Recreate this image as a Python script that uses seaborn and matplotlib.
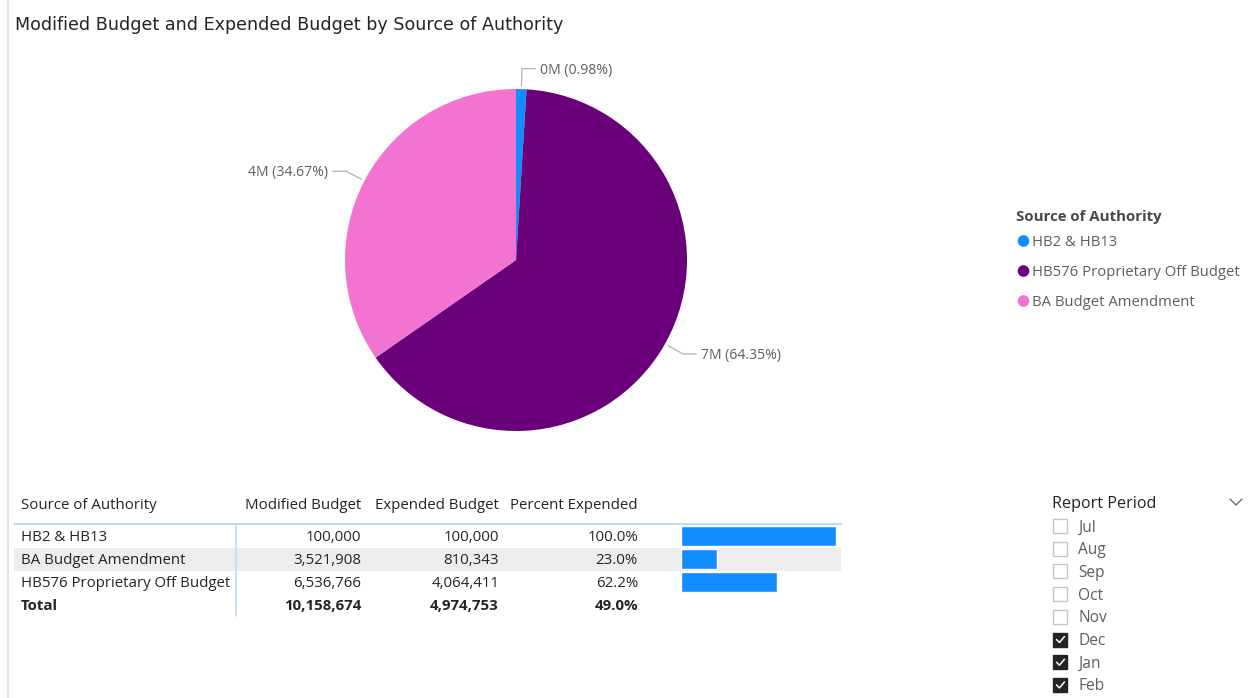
import numpy as np
import pandas as pd
import matplotlib
matplotlib.use("Agg")
import matplotlib.pyplot as plt
import seaborn as sns

# --- data -------------------------------------------------------------
sources = ["HB2 & HB13", "BA Budget Amendment", "HB576 Proprietary Off Budget"]
modified_budget = [100000, 3521908, 6536766]
expended_budget = [100000, 810343, 4064411]
percent_expended = [1.000, 0.230, 0.622]
total_modified = 10158674
total_expended = 4974753
total_percent = 0.490

legend_order = ["HB2 & HB13", "HB576 Proprietary Off Budget", "BA Budget Amendment"]
source_colors = {"HB2 & HB13": "#118DFF",
                 "HB576 Proprietary Off Budget": "#6B007B",
                 "BA Budget Amendment": "#F274D0"}

months = ["Jul", "Aug", "Sep", "Oct", "Nov", "Dec", "Jan", "Feb"]
months_selected = [False, False, False, False, False, True, True, True]

table_headers = ["Source of Authority", "Modified Budget", "Expended Budget", "Percent Expended"]

df = pd.DataFrame({"source": sources,
                   "modified": modified_budget,
                   "expended": expended_budget,
                   "pct": percent_expended})

# --- figure -----------------------------------------------------------
sns.set_theme(style="white")
plt.rcParams["font.family"] = ["Open Sans", "DejaVu Sans"]

W, H = 1250, 698
fig = plt.figure(figsize=(W / 100, H / 100), dpi=100)
fig.patch.set_facecolor("white")

# overlay axes in pixel coordinates (y down) for text and rules
ov = fig.add_axes([0, 0, 1, 1])
ov.set_xlim(0, W)
ov.set_ylim(H, 0)
ov.axis("off")

DARK = "#252423"
GRAY = "#605E5C"
DY = 1.5  # nudge text down so glyphs sit centred on their rows


def txt(x, y, s, **kw):
    kw.setdefault("va", "center")
    kw.setdefault("ha", "left")
    return ov.text(x, y + DY, s, **kw)


# left rule of the page
ov.plot([7.5, 7.5], [0, H], color="#E3E3E3", lw=1.5)

# title
txt(15, 24, "Modified Budget and Expended Budget by Source of Authority",
    fontsize=12.6, color=DARK, family=["DejaVu Sans"])

# --- pie --------------------------------------------------------------
cx, cy, r = 516, 260, 171
pie_ax = fig.add_axes([(cx - r) / W, (H - cy - r) / H, 2 * r / W, 2 * r / H])
pie_vals = [df.set_index("source").loc[s, "modified"] for s in legend_order]
wedges, _ = pie_ax.pie(pie_vals, colors=[source_colors[s] for s in legend_order],
                       startangle=90, counterclock=False,
                       wedgeprops=dict(linewidth=0))
pie_ax.set_xlim(-1, 1)
pie_ax.set_ylim(-1, 1)
pie_ax.set_aspect("equal")
pie_ax.axis("off")

for w, val in zip(wedges, pie_vals):
    mid = np.deg2rad((w.theta1 + w.theta2) / 2)
    c, s = np.cos(mid), np.sin(mid)
    p0 = (1.02 * c, 1.02 * s)
    p1 = (1.12 * c, 1.12 * s)
    d = 1 if c >= 0 else -1
    p2 = (p1[0] + d * 0.078, p1[1])
    pie_ax.plot([p0[0], p1[0], p2[0]], [p0[1], p1[1], p2[1]],
                color="#B0B0B0", lw=0.9, clip_on=False)
    label = f"{val / 1e6:.0f}M ({val / total_modified * 100:.2f}%)"
    pie_ax.text(p2[0] + d * 0.03, p2[1] - DY / r, label, fontsize=10.1, color=GRAY,
                ha="left" if d > 0 else "right", va="center", clip_on=False)

# --- legend -----------------------------------------------------------
txt(1016, 216, "Source of Authority", fontsize=10.8, fontweight="bold",
    color="#4A4947")
for i, s in enumerate(legend_order):
    y = 241 + 30 * i
    ov.scatter([1023.5], [y], s=70, color=source_colors[s], edgecolors="none")
    txt(1032, y, s, fontsize=10.7, color=GRAY)

# --- table ------------------------------------------------------------
FS = 10.8
row_y = [536, 559, 582]
total_y = 605
col_right = [None, 361, 499, 638]

txt(21, 504, table_headers[0], fontsize=FS, color=DARK)
for j in range(1, 4):
    txt(col_right[j], 504, table_headers[j], fontsize=FS, color=DARK, ha="right")

# banded row
ov.add_patch(plt.Rectangle((14, 548), 827, 22.5, color="#EEEDED", lw=0, zorder=0))
# header rule and column divider
ov.plot([14, 841], [523.5, 523.5], color="#BFDDF2", lw=1.5)
ov.plot([236, 236], [524, 616], color="#BFDDF2", lw=1.2)

for y, (_, row) in zip(row_y, df.iterrows()):
    txt(21, y, row["source"], fontsize=FS, color=DARK)
    txt(col_right[1], y, f"{row['modified']:,}", fontsize=FS, color=DARK, ha="right")
    txt(col_right[2], y, f"{row['expended']:,}", fontsize=FS, color=DARK, ha="right")
    txt(col_right[3], y, f"{row['pct'] * 100:.1f}%", fontsize=FS, color=DARK, ha="right")

txt(21, total_y, "Total", fontsize=FS, color=DARK, fontweight="bold")
txt(col_right[1], total_y, f"{total_modified:,}", fontsize=FS, color=DARK,
    ha="right", fontweight="bold")
txt(col_right[2], total_y, f"{total_expended:,}", fontsize=FS, color=DARK,
    ha="right", fontweight="bold")
txt(col_right[3], total_y, f"{total_percent * 100:.1f}%", fontsize=FS,
    color=DARK, ha="right", fontweight="bold")

# data bars for Percent Expended
bx0, bw = 681, 155
by0 = 524.5
bh = 23 * 3
bar_ax = fig.add_axes([bx0 / W, (H - by0 - bh) / H, bw / W, bh / H])
bar_ax.patch.set_alpha(0)
sns.barplot(data=df, x="pct", y="source", order=sources, orient="h",
            color="#118DFF", width=0.9, saturation=1, ax=bar_ax)
bar_ax.set_xlim(0, 1)
bar_ax.set_ylim(2.5, -0.5)
bar_ax.axis("off")

# --- slicer -----------------------------------------------------------
txt(1052, 502, "Report Period", fontsize=11.6, color=DARK)
ov.plot([1230, 1236, 1242], [499, 505, 499], color="#605E5C", lw=0.9)
for i, (m, sel) in enumerate(zip(months, months_selected)):
    y = 526 + 22.7 * i
    if sel:
        ov.add_patch(plt.Rectangle((1053, y - 7), 14, 14, facecolor="#252423",
                                   edgecolor="#252423", lw=1))
        ov.plot([1056.5, 1059.5, 1064.5], [y, y + 3, y - 3], color="white", lw=1.1)
    else:
        ov.add_patch(plt.Rectangle((1053, y - 7), 14, 14, facecolor="white",
                                   edgecolor="#C8C6C4", lw=1))
    txt(1078, y, m, fontsize=11.2, color=GRAY)

fig.savefig("out.png", dpi=100, facecolor="white")
